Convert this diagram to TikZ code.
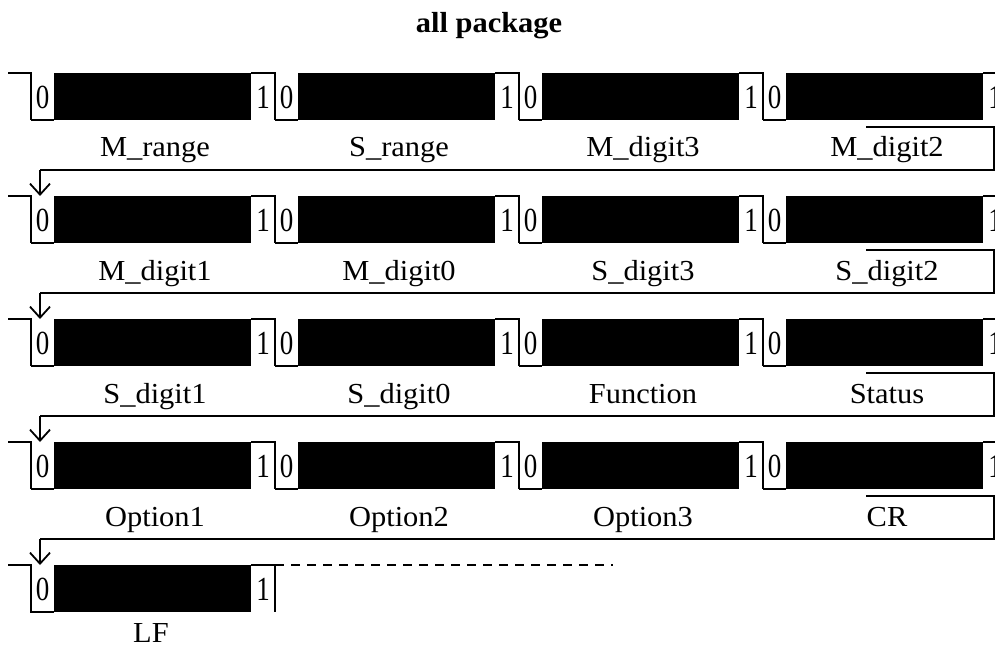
\documentclass[tikz,border=0pt]{standalone}
\usepackage{fontspec}
\usepackage{graphicx}
\setmainfont{Liberation Serif}
\usetikzlibrary{arrows.meta}
\newcommand\tallbit[1]{\scalebox{1}[1.25]{#1}}
\newcommand\widelbl[1]{\scalebox{1.05}[1]{#1}}
\begin{document}
\begin{tikzpicture}[x=1pt,y=-1pt,
  wave/.style={line width=1.3pt},
  ret/.style={line width=1.8pt},
  bitnode/.style={inner sep=0pt,font=\fontsize{27}{27}\selectfont},
  lblnode/.style={inner sep=0pt,anchor=base,font=\fontsize{29}{29}\selectfont},
  titlenode/.style={inner sep=0pt,anchor=base,font=\fontsize{29}{29}\selectfont\bfseries},
  arr/.style={-{Straight Barb[length=11pt,width=20pt,line width=1.8pt]}}]
\useasboundingbox (0,0) rectangle (995,652);
\clip (0,0) rectangle (995,652);
\node[titlenode] (title) at (489,33) {\widelbl{all package}};
% rows 1-4
\foreach \r in {0,...,3} {
  \pgfmathsetmacro\yt{73+123*\r}
  \pgfmathsetmacro\yb{\yt+47}
  \draw[wave] (8,\yt) -- (31,\yt) -- (31,\yb);
  \foreach \k in {0,...,3} {
    \pgfmathsetmacro\xo{31+244*\k}
    \fill (\xo+23,\yt) rectangle (\xo+220,\yb);
    \draw[wave] (\xo,\yb) -- (\xo+23,\yb);
    \draw[wave] (\xo+220,\yt) -- (\xo+244,\yt) -- (\xo+244,\yb);
    \node[bitnode] (z-\r-\k) at (\xo+11.5,\yt+24) {\tallbit{0}};
    \node[bitnode] (o-\r-\k) at (\xo+232,\yt+24) {\tallbit{1}};
  }
  \coordinate (rs-\r) at (866,\yt+54);
  \coordinate (rc-\r) at (994,\yt+54);
  \coordinate (rd-\r) at (994,\yt+97);
  \coordinate (rl-\r) at (40,\yt+97);
  \coordinate (re-\r) at (40,\yt+123);
  \draw[ret] (rs-\r) -- (rc-\r) -- (rd-\r) -- (rl-\r);
  \draw[ret,arr] (rl-\r) -- (re-\r);
}
% labels
\foreach \r/\k/\t in {0/0/M\_range,0/1/S\_range,0/2/M\_digit3,0/3/M\_digit2,
  1/0/M\_digit1,1/1/M\_digit0,1/2/S\_digit3,1/3/S\_digit2,
  2/0/S\_digit1,2/1/S\_digit0,2/2/Function,2/3/Status,
  3/0/Option1,3/1/Option2,3/2/Option3,3/3/CR} {
  \node[lblnode] (lbl-\r-\k) at (155+244*\k,157+123*\r) {\widelbl{\t}};
}
% row 5
\draw[wave] (8,565) -- (31,565) -- (31,612) -- (54,612);
\fill (54,565) rectangle (251,612);
\draw[wave] (251,565) -- (275,565) -- (275,612);
\node[bitnode] (z-4) at (42.5,589) {\tallbit{0}};
\node[bitnode] (o-4) at (263,589) {\tallbit{1}};
\coordinate (dstart) at (275,565);
\coordinate (dend) at (613,565);
\draw[wave,dash pattern=on 9pt off 7pt] (dstart) -- (dend);
\node[lblnode] (lbl-4) at (151,642) {\widelbl{LF}};
\end{tikzpicture}
\end{document}
